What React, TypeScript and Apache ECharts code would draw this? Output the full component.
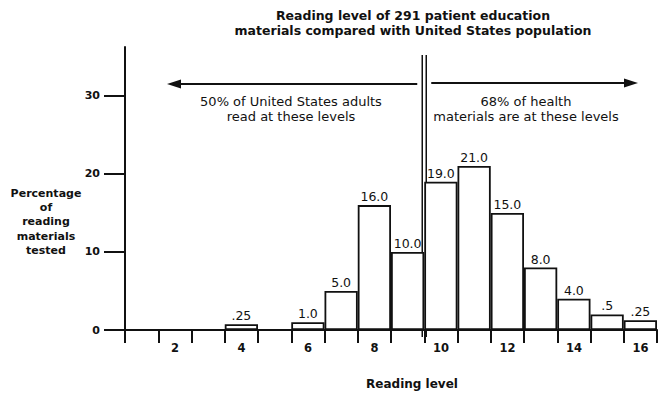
import React, { useEffect, useRef } from "react";
import * as echarts from "echarts";

const levels = ["1", "2", "3", "4", "5", "6", "7", "8", "9", "10", "11", "12", "13", "14", "15", "16"];
const barHeights = [0, 0, 0, 0.75, 0, 1, 5, 16, 10, 19, 21, 15, 8, 4, 2, 1.25];
const valueLabels = ["", "", "", ".25", "", "1.0", "5.0", "16.0", "10.0", "19.0", "21.0", "15.0", "8.0", "4.0", ".5", ".25"];
const yTicks = [0, 10, 20, 30];
const titleLines = ["Reading level of 291 patient education", "materials compared with United States population"];
const leftNote = ["50% of United States adults", "read at these levels"];
const rightNote = ["68% of health", "materials are at these levels"];
const yName = ["Percentage", "of", "reading", "materials", "tested"];

const FONT = "'DejaVu Sans', Verdana, sans-serif";
const INK = "#111";

export default function App() {
  const ref = useRef<HTMLDivElement>(null);
  useEffect(() => {
    if (!ref.current) return;
    const chart = echarts.init(ref.current, null, { renderer: "svg" });
    const gridLeft = 125;
    const gridRight = 2;
    const width = 659 - gridLeft - gridRight;
    const step = width / levels.length;
    const divX = gridLeft + step * 9; // boundary between level 9 and 10
    chart.setOption({
      animation: false,
      backgroundColor: "#fff",
      textStyle: { fontFamily: FONT, color: INK },
      title: {
        text: titleLines.join("\n"),
        left: 408,
        top: 3,
        textAlign: "center",
        textStyle: { fontFamily: FONT, fontSize: 12.5, fontWeight: "bold", color: INK, lineHeight: 15 },
      },
      grid: { left: gridLeft, right: gridRight, top: 47, bottom: 58 },
      xAxis: {
        type: "category",
        data: levels,
        boundaryGap: true,
        name: "Reading level",
        nameLocation: "middle",
        nameGap: 48,
        nameTextStyle: { fontFamily: FONT, fontSize: 12, fontWeight: "bold", color: INK, padding: [0, 0, 0, 42] },
        axisLine: { lineStyle: { color: INK, width: 2 } },
        axisTick: { show: true, interval: 0, length: 13, lineStyle: { color: INK, width: 2 } },
        axisLabel: {
          interval: (idx: number) => idx % 2 === 1,
          margin: 12,
          fontFamily: FONT,
          fontSize: 11.5,
          fontWeight: "bold",
          color: INK,
        },
        splitLine: { show: false },
      },
      yAxis: {
        type: "value",
        min: 0,
        max: 36.25,
        interval: 10,
        axisLine: { show: true, lineStyle: { color: INK, width: 2 } },
        axisTick: { show: true, length: 21, customValues: yTicks, lineStyle: { color: INK, width: 2 } },
        axisLabel: { customValues: yTicks, margin: 25, fontFamily: FONT, fontSize: 11, fontWeight: "bold", color: INK },
        splitLine: { show: false },
      },
      series: [
        {
          type: "bar",
          data: barHeights,
          barWidth: "100%",
          barCategoryGap: "0%",
          itemStyle: { color: "#fff", borderColor: INK, borderWidth: 1.8 },
          label: {
            show: true,
            position: "top",
            distance: 2,
            fontFamily: FONT,
            fontSize: 12.5,
            color: INK,
            formatter: (p: any) => valueLabels[p.dataIndex],
          },
          z: 1,
        },
      ],
      graphic: [
        {
          type: "text",
          style: {
            text: yName.join("\n"),
            x: 46,
            y: 186,
            textAlign: "center",
            font: `bold 11px ${FONT}`,
            lineHeight: 14.3,
            fill: INK,
          },
        },
        // double divider
        { type: "line", shape: { x1: divX - 2, y1: 55, x2: divX - 2, y2: 337 }, style: { stroke: INK, lineWidth: 1.5 } },
        { type: "line", shape: { x1: divX + 2, y1: 55, x2: divX + 2, y2: 337 }, style: { stroke: INK, lineWidth: 1.5 } },
        // left arrow
        { type: "line", shape: { x1: divX - 7, y1: 84, x2: 176, y2: 84 }, style: { stroke: INK, lineWidth: 2 } },
        { type: "polygon", shape: { points: [[167, 84], [181, 79.5], [181, 88.5]] }, style: { fill: INK } },
        // right arrow
        { type: "line", shape: { x1: divX + 7, y1: 83, x2: 628, y2: 83 }, style: { stroke: INK, lineWidth: 2 } },
        { type: "polygon", shape: { points: [[638, 83], [624, 78.5], [624, 87.5]] }, style: { fill: INK } },
        {
          type: "text",
          style: {
            text: leftNote.join("\n"),
            x: 291,
            y: 94,
            textAlign: "center",
            font: `13px ${FONT}`,
            lineHeight: 15,
            fill: INK,
          },
        },
        {
          type: "text",
          style: {
            text: rightNote.join("\n"),
            x: 526,
            y: 94,
            textAlign: "center",
            font: `13px ${FONT}`,
            lineHeight: 15,
            fill: INK,
          },
        },
      ],
    });
    return () => chart.dispose();
  }, []);
  return <div ref={ref} style={{ width: 659, height: 395, position: "absolute", left: 0, top: 0 }} />;
}
